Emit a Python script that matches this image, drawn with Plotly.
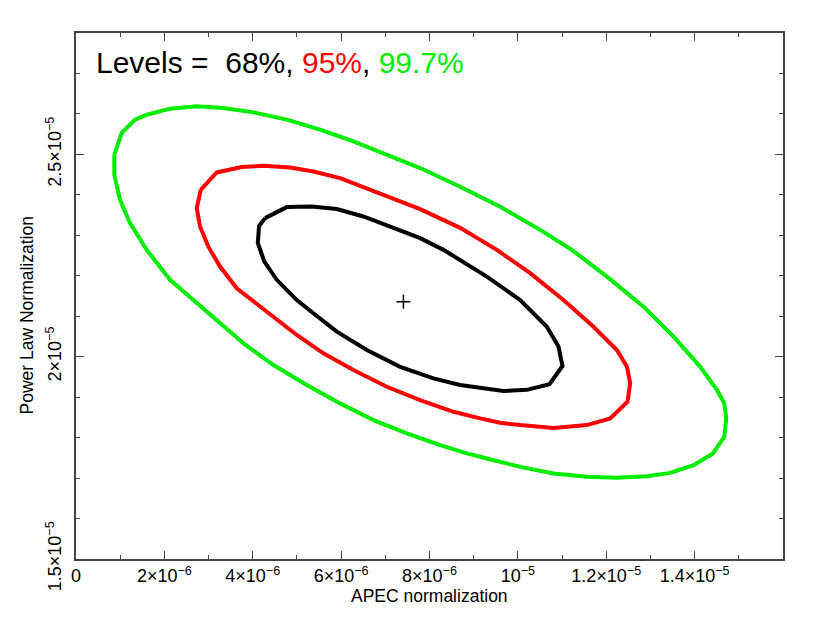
import plotly.graph_objects as go

# contour points (APEC norm in 1e-6, power-law norm in 1e-5)
X_SCALE = 1e-6
Y_SCALE = 1e-5

c68_x = [4.279, 4.770, 5.336, 5.902, 6.504, 7.109, 7.788, 8.316, 9.298, 10.052, 10.656,
         10.919, 11.010, 10.715, 10.204, 9.674, 9.146, 8.694, 8.089, 7.335, 6.581, 5.902,
         5.372, 4.997, 4.544, 4.263, 4.114, 4.143, 4.279]
c68_y = [2.3425, 2.3697, 2.3713, 2.3648, 2.3465, 2.3217, 2.293, 2.264, 2.198, 2.140, 2.074,
         2.025, 1.977, 1.932, 1.918, 1.915, 1.922, 1.930, 1.9465, 1.975, 2.0165, 2.062,
         2.1074, 2.140, 2.190, 2.235, 2.281, 2.323, 2.3425]

c95_x = [2.823, 3.185, 3.751, 4.240, 4.845, 5.372, 5.977, 6.581, 7.184, 7.788, 8.694, 9.524,
         10.278, 11.032, 11.712, 12.241, 12.468, 12.542, 12.481, 12.090, 11.562, 10.806,
         10.052, 9.599, 9.146, 8.542, 7.788, 7.034, 6.278, 5.599, 4.997, 4.467, 4.014,
         3.638, 3.260, 2.995, 2.807, 2.733, 2.823]
c95_y = [2.4125, 2.4554, 2.4687, 2.4719, 2.4677, 2.4578, 2.4415, 2.4167, 2.392, 2.3648,
         2.3185, 2.264, 2.2064, 2.140, 2.074, 2.0165, 1.975, 1.934, 1.8886, 1.8475, 1.831,
         1.824, 1.831, 1.8366, 1.8475, 1.8638, 1.8928, 1.9257, 1.967, 2.0084, 2.0537,
         2.099, 2.140, 2.169, 2.2227, 2.272, 2.3217, 2.367, 2.4125]

c997_x = [0.867, 1.035, 1.336, 1.601, 2.128, 2.733, 3.335, 4.014, 4.770, 5.524, 6.278, 7.034,
          7.788, 8.694, 9.599, 10.505, 11.222, 12.015, 12.844, 13.523, 14.127, 14.505,
          14.671, 14.716, 14.671, 14.415, 13.975, 13.448, 12.921, 12.241, 11.562, 10.806,
          10.052, 9.298, 8.845, 8.241, 7.487, 6.731, 5.977, 5.223, 4.467, 3.788, 3.260,
          2.807, 2.128, 1.601, 1.223, 0.996, 0.867, 0.867]
c997_y = [2.499, 2.553, 2.586, 2.598, 2.613, 2.6187, 2.6147, 2.6039, 2.586, 2.561, 2.532,
          2.499, 2.4662, 2.420, 2.3705, 2.3135, 2.264, 2.198, 2.1237, 2.0494, 1.975, 1.918,
          1.8846, 1.8475, 1.802, 1.7609, 1.7319, 1.7129, 1.7047, 1.7005, 1.703, 1.7114,
          1.7277, 1.7485, 1.7609, 1.7814, 1.8104, 1.8433, 1.8846, 1.9299, 1.9794, 2.0331,
          2.0826, 2.1279, 2.190, 2.264, 2.330, 2.3878, 2.4497, 2.499]

best_x = [7.410]
best_y = [2.136]

x_tickvals = [0, 2e-6, 4e-6, 6e-6, 8e-6, 1e-5, 1.2e-5, 1.4e-5]
x_ticktext = ["0", "2×10<sup>−6</sup>", "4×10<sup>−6</sup>", "6×10<sup>−6</sup>",
              "8×10<sup>−6</sup>", "10<sup>−5</sup>", "1.2×10<sup>−5</sup>", "1.4×10<sup>−5</sup>"]
y_tickvals = [1.5e-5, 2e-5, 2.5e-5]
y_ticktext = ["1.5×10<sup>−5</sup>", "2×10<sup>−5</sup>", "2.5×10<sup>−5</sup>"]

FONT = "Liberation Sans, Arial, sans-serif"

fig = go.Figure()

for xs, ys, col in [(c997_x, c997_y, "#00ee00"), (c95_x, c95_y, "#ff0000"), (c68_x, c68_y, "#000000")]:
    fig.add_trace(go.Scatter(
        x=[v * X_SCALE for v in xs], y=[v * Y_SCALE for v in ys],
        mode="lines", line=dict(color=col, width=4), showlegend=False,
    ))

fig.add_trace(go.Scatter(
    x=[v * X_SCALE for v in best_x], y=[v * Y_SCALE for v in best_y],
    mode="markers", marker=dict(symbol="cross-thin", size=10, line=dict(color="black", width=1.5)),
    showlegend=False,
))

axis_common = dict(
    showline=True, linecolor="#444", linewidth=1.5, mirror="allticks",
    ticks="inside", ticklen=8, tickwidth=1.2, tickcolor="#444",
    showgrid=False, zeroline=False,
    tickfont=dict(family=FONT, size=18, color="black"),
)

fig.update_xaxes(
    range=[0, 1.6e-5], tickmode="array", tickvals=x_tickvals, ticktext=x_ticktext,
    minor=dict(tick0=0, dtick=1e-6, ticks="inside", ticklen=4, tickcolor="#444"),
    **axis_common,
)
fig.update_yaxes(
    range=[1.5e-5, 2.8e-5], tickmode="array", tickvals=y_tickvals, ticktext=y_ticktext,
    tickangle=-90, ticklabelstandoff=6,
    minor=dict(tick0=0, dtick=1e-6, ticks="inside", ticklen=4, tickcolor="#444"),
    **axis_common,
)

fig.add_annotation(
    x=0.0255, y=0.943, xref="paper", yref="paper", xanchor="left", yanchor="middle",
    showarrow=False, font=dict(family=FONT, size=30, color="black"),
    text="Levels =  68%, <span style='color:#ff0000'>95%</span>, "
         "<span style='color:#00ee00'>99.7%</span>",
)
fig.add_annotation(
    x=0.5, y=-0.0705, xref="paper", yref="paper", xanchor="center", yanchor="middle",
    showarrow=False, font=dict(family=FONT, size=17.5, color="black"),
    text="APEC normalization",
)
fig.add_annotation(
    x=-0.0693, y=0.463, xref="paper", yref="paper", xanchor="center", yanchor="middle",
    showarrow=False, textangle=-90, font=dict(family=FONT, size=17.5, color="black"),
    text="Power Law Normalization",
)

# page body adds an 8px margin, so the figure is kept 8px smaller on each side
fig.update_layout(
    width=822, height=621,
    margin=dict(l=68, r=47, t=25, b=70),
    paper_bgcolor="white", plot_bgcolor="white",
)

fig.write_html("out.html")
